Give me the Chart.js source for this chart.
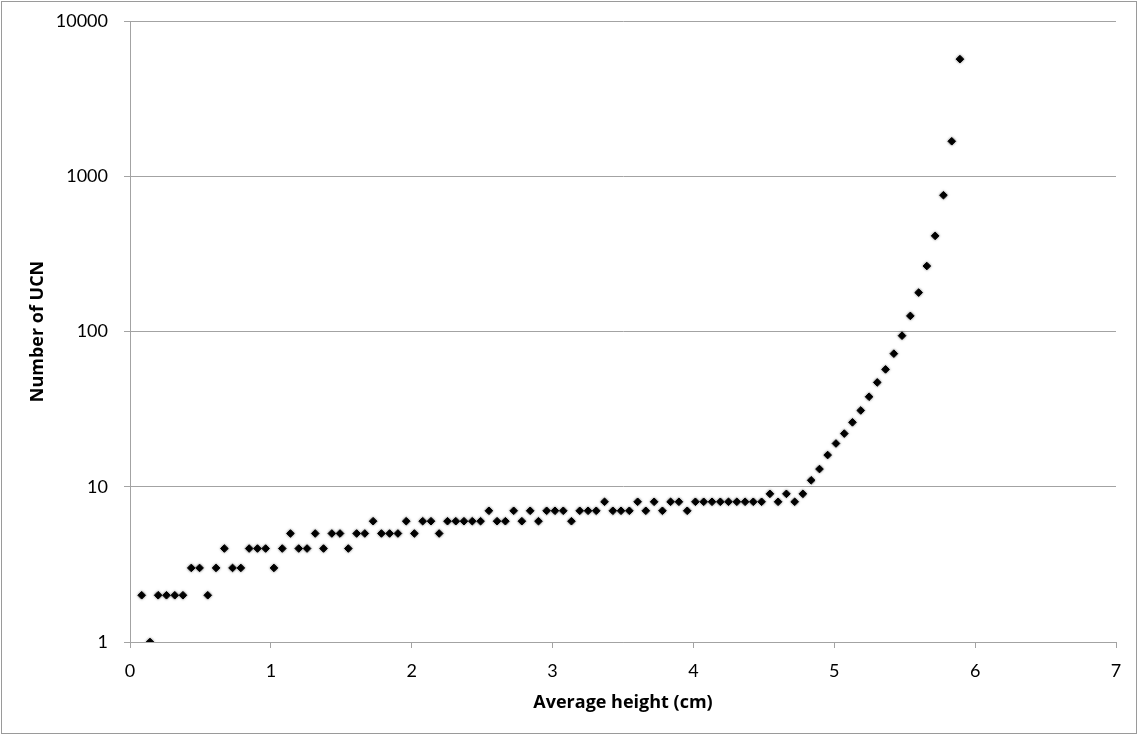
<!DOCTYPE html>
<html lang="en">
<head>
    <meta charset="UTF-8">
    <title>Number of UCN vs average height</title>
    <script src="https://cdn.jsdelivr.net/npm/chart.js"></script>
    <style>
        body {
            margin: 0;
            background: #ffffff;
        }
        #ucnChart {
            display: block;
        }
    </style>
</head>
<body>
    <canvas id="ucnChart" width="1138" height="735"></canvas>

    <script>
        // values
        const heights = [
            0.083, 0.142, 0.200, 0.259, 0.318, 0.376, 0.435, 0.494, 0.552, 0.611,
            0.670, 0.728, 0.787, 0.846, 0.905, 0.963, 1.022, 1.081, 1.139, 1.198,
            1.257, 1.315, 1.374, 1.433, 1.491, 1.550, 1.609, 1.667, 1.726, 1.785,
            1.843, 1.902, 1.961, 2.019, 2.078, 2.137, 2.195, 2.254, 2.313, 2.371,
            2.430, 2.489, 2.548, 2.606, 2.665, 2.724, 2.782, 2.841, 2.900, 2.958,
            3.017, 3.076, 3.134, 3.193, 3.252, 3.310, 3.369, 3.428, 3.486, 3.545,
            3.604, 3.662, 3.721, 3.780, 3.838, 3.897, 3.956, 4.014, 4.073, 4.132,
            4.191, 4.249, 4.308, 4.367, 4.425, 4.484, 4.543, 4.601, 4.660, 4.719,
            4.777, 4.836, 4.895, 4.953, 5.012, 5.071, 5.129, 5.188, 5.247, 5.305,
            5.364, 5.423, 5.481, 5.540, 5.599, 5.657, 5.716, 5.775, 5.834, 5.892
        ];
        const counts = [
            2, 1, 2, 2, 2, 2, 3, 3, 2, 3,
            4, 3, 3, 4, 4, 4, 3, 4, 5, 4,
            4, 5, 4, 5, 5, 4, 5, 5, 6, 5,
            5, 5, 6, 5, 6, 6, 5, 6, 6, 6,
            6, 6, 7, 6, 6, 7, 6, 7, 6, 7,
            7, 7, 6, 7, 7, 7, 8, 7, 7, 7,
            8, 7, 8, 7, 8, 8, 7, 8, 8, 8,
            8, 8, 8, 8, 8, 8, 9, 8, 9, 8,
            9, 11, 13, 16, 19, 22, 26, 31, 38, 47,
            57, 72, 94, 126, 178, 264, 413, 755, 1680, 5680
        ];
        const xTicks = [0, 1, 2, 3, 4, 5, 6, 7];
        const yTicks = [1, 10, 100, 1000, 10000];

        const points = heights.map((h, i) => ({x: h, y: counts[i]}));

        const gridGray = "#a3a3a3";
        const labelFont = {family: "Lato, 'Open Sans', sans-serif", size: 18};
        const titleFont = {family: "'Open Sans', Lato, sans-serif", size: 18, weight: "bold"};

        // soft edge on the markers and the thin frame round the picture
        const frameAndShadow = {
            id: "frameAndShadow",
            beforeDatasetsDraw(chart) {
                const c = chart.ctx;
                c.save();
                c.shadowColor = "rgba(0, 0, 0, 0.5)";
                c.shadowBlur = 2.5;
            },
            afterDatasetsDraw(chart) {
                chart.ctx.restore();
            },
            afterDraw(chart) {
                const c = chart.ctx;
                c.save();
                c.strokeStyle = "#9a9a9a";
                c.lineWidth = 1;
                c.strokeRect(1.5, 1.5, chart.width - 3, chart.height - 3);
                c.restore();
            }
        };

        const ctx = document.getElementById("ucnChart").getContext("2d");
        new Chart(ctx, {
            type: "scatter",
            data: {
                datasets: [{
                    label: "UCN",
                    data: points,
                    pointStyle: "rectRot",
                    pointRadius: 3.8,
                    pointBackgroundColor: "#000000",
                    pointBorderColor: "#000000",
                    pointBorderWidth: 1
                }]
            },
            plugins: [frameAndShadow],
            options: {
                responsive: false,
                animation: false,
                layout: {
                    padding: {top: 21, right: 22, bottom: 0, left: 0}
                },
                plugins: {
                    legend: {display: false},
                    tooltip: {enabled: false}
                },
                scales: {
                    x: {
                        type: "linear",
                        min: 0,
                        max: 7,
                        afterBuildTicks: axis => {
                            axis.ticks = xTicks.map(v => ({value: v}));
                        },
                        afterFit: axis => {
                            axis.height = 93;
                            axis.paddingLeft = 0;
                            axis.paddingRight = 0;
                        },
                        ticks: {
                            color: "#000000",
                            font: labelFont,
                            padding: 12,
                            maxRotation: 0
                        },
                        grid: {
                            drawOnChartArea: false,
                            drawTicks: true,
                            tickLength: 6,
                            color: gridGray
                        },
                        border: {color: gridGray, width: 1},
                        title: {
                            display: true,
                            text: "Average height (cm)",
                            color: "#000000",
                            font: titleFont,
                            padding: {top: 0, bottom: 21}
                        }
                    },
                    y: {
                        type: "logarithmic",
                        min: 1,
                        max: 10000,
                        afterBuildTicks: axis => {
                            axis.ticks = yTicks.map(v => ({value: v}));
                        },
                        afterFit: axis => {
                            axis.width = 130;
                            axis.paddingTop = 0;
                            axis.paddingBottom = 0;
                        },
                        ticks: {
                            color: "#000000",
                            font: labelFont,
                            padding: 16,
                            callback: v => String(v)
                        },
                        grid: {
                            color: gridGray,
                            drawTicks: true,
                            tickLength: 6
                        },
                        border: {color: gridGray, width: 1},
                        title: {
                            display: true,
                            text: "Number of UCN",
                            color: "#000000",
                            font: titleFont,
                            padding: {top: 27, bottom: 0}
                        }
                    }
                }
            }
        });
    </script>
</body>
</html>
